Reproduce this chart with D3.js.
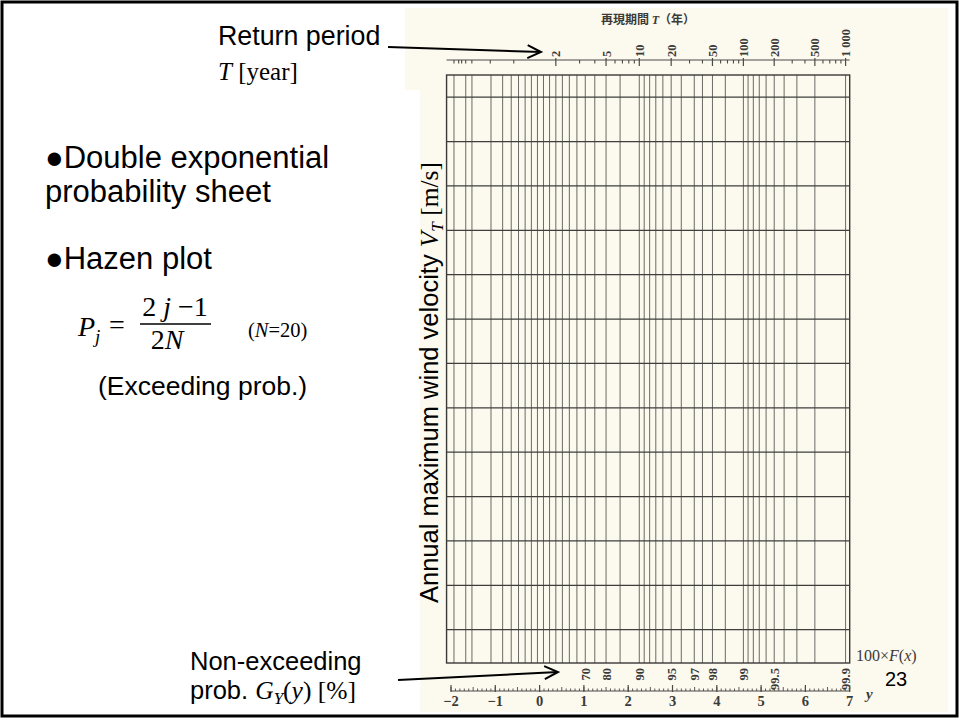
<!DOCTYPE html>
<html><head><meta charset="utf-8">
<script src="https://cdn.jsdelivr.net/npm/d3@7"></script>
<style>body{margin:0;background:#fff}</style>
</head><body><svg id="c" width="960" height="720"></svg>
<script>
// ---------- data ----------
const gridProb = [0.001,0.005,0.01,0.05,0.10,0.15,0.20,0.25,0.30,0.35,0.40,0.45,0.50,0.55,0.60,0.65,0.70,0.75,0.80,0.85,0.90,
  0.91,0.92,0.93,0.94,0.95,0.96,0.97,0.975,0.98,0.985,0.99,0.991,0.992,0.993,0.994,0.995,0.996,0.997,0.998,0.999];
const returnPeriodLabeled = [2,5,10,20,50,100,200,500,1000];
const returnPeriodLabels = ["2","5","10","20","50","100","200","500","1 000"];
const returnPeriodMinor = [1.001,1.002,1.003,1.005,1.01,1.05,1.2,3,4,6,7,8,9,30,40,60,70,80,90,300,400,600,700,800,900];
const probLabeled = [0.70,0.80,0.90,0.95,0.97,0.98,0.99,0.995,0.999];
const probLabels = ["70","80","90","95","97","98","99","99.5","99.9"];
const reducedTicks = [-2,-1,0,1,2,3,4,5,6,7];
const velocityLines = [1,2,3,4,5,6,7,8,9,10,11,12,13];
const frameReduced = [-2.1, 7];
const frameVelocity = [0.25, 13.5];

// ---------- scales ----------
const svg = d3.select("#c");
const gumbel = F => -Math.log(-Math.log(F));
const x = d3.scaleLinear().domain([-2, 7]).range([451, 849.7]);
const yV = d3.scaleLinear().domain(frameVelocity).range([663, 75]);
const xF = F => x(gumbel(F));
const xT = T => xF(1 - 1/T);

// backgrounds
svg.append("rect").attr("x",0).attr("y",0).attr("width",960).attr("height",720).attr("fill","#fff");
svg.append("rect").attr("x",420).attr("y",8).attr("width",528).attr("height",704).attr("fill","#fcf9ee");
svg.append("rect").attr("x",405).attr("y",8).attr("width",16).attr("height",82).attr("fill","#fcf9ee");

const ink = "#4a4a48";
const g = svg.append("g");
// vertical grid
g.selectAll("line.v").data(gridProb).join("line")
  .attr("x1", d => xF(d)).attr("x2", d => xF(d))
  .attr("y1", yV(frameVelocity[0])).attr("y2", yV(frameVelocity[1]))
  .attr("stroke", "#6a6a66").attr("stroke-width", 1);
// horizontal grid
g.selectAll("line.h").data(velocityLines).join("line")
  .attr("x1", x(frameReduced[0])).attr("x2", x(frameReduced[1]))
  .attr("y1", d => yV(d)).attr("y2", d => yV(d))
  .attr("stroke", "#3e3e3c").attr("stroke-width", 1.2);
// frame
g.append("rect").attr("x", x(frameReduced[0])).attr("y", yV(frameVelocity[1]))
  .attr("width", x(frameReduced[1]) - x(frameReduced[0]))
  .attr("height", yV(frameVelocity[0]) - yV(frameVelocity[1]))
  .attr("fill","none").attr("stroke","#3a3a38").attr("stroke-width",1.4);

// top return-period axis
const topY = 60;
g.append("line").attr("x1", x(frameReduced[0])).attr("x2", x(7)).attr("y1", topY).attr("y2", topY)
  .attr("stroke", ink).attr("stroke-width", 1.2);
g.selectAll("line.tmin").data(returnPeriodMinor).join("line")
  .attr("x1", d => xT(d)).attr("x2", d => xT(d)).attr("y1", topY).attr("y2", topY + 3.5)
  .attr("stroke", ink).attr("stroke-width", 1.1);
g.selectAll("line.tmaj").data(returnPeriodLabeled).join("line")
  .attr("x1", d => xT(d)).attr("x2", d => xT(d)).attr("y1", topY - 2).attr("y2", topY + 6)
  .attr("stroke", ink).attr("stroke-width", 1.2);
g.selectAll("text.tlab").data(returnPeriodLabeled).join("text")
  .attr("transform", d => `translate(${xT(d) + 4.5},${topY - 3}) rotate(-90)`)
  .attr("font-family", "Liberation Serif, serif").attr("font-size", 12.5).attr("font-weight", "bold")
  .attr("fill", "#3a3a38")
  .text((d, i) => returnPeriodLabels[i]);
svg.append("text").attr("x", 648).attr("y", 24).attr("text-anchor", "middle")
  .attr("font-family", "Noto Sans CJK JP, serif").attr("font-size", 12).attr("font-weight", "bold")
  .attr("fill", "#3a3a38")
  .html('再現期間 <tspan font-family="Liberation Serif" font-style="italic">T</tspan>（年）');

// bottom probability labels
g.selectAll("text.flab").data(probLabeled).join("text")
  .attr("transform", d => `translate(${xF(d) + 4.5},${668}) rotate(-90)`)
  .attr("text-anchor", "end")
  .attr("font-family", "Liberation Serif, serif").attr("font-size", 12.5).attr("font-weight", "bold")
  .attr("fill", "#3a3a38")
  .text((d, i) => probLabels[i]);
svg.append("text").attr("x", 856).attr("y", 661)
  .attr("font-family", "Liberation Serif, serif").attr("font-size", 16).attr("fill", "#3a3a38")
  .html('100×<tspan font-style="italic">F</tspan>(<tspan font-style="italic">x</tspan>)');

// bottom reduced-variate axis
const botY = 691;
g.append("line").attr("x1", x(-2)).attr("x2", x(7)).attr("y1", botY).attr("y2", botY)
  .attr("stroke", ink).attr("stroke-width", 1.2);
const minorTicks = x.ticks(90);
g.selectAll("line.ymin").data(minorTicks).join("line")
  .attr("x1", d => x(d)).attr("x2", d => x(d)).attr("y1", botY)
  .attr("y2", d => botY - (Math.abs(d * 2 - Math.round(d * 2)) < 1e-6 ? 4 : 2.5))
  .attr("stroke", ink).attr("stroke-width", 0.9);
g.selectAll("line.ymaj").data(reducedTicks).join("line")
  .attr("x1", d => x(d)).attr("x2", d => x(d)).attr("y1", botY + 1).attr("y2", botY - 6)
  .attr("stroke", ink).attr("stroke-width", 1.2);
g.selectAll("text.ylab").data(reducedTicks).join("text")
  .attr("x", d => x(d)).attr("y", 706).attr("text-anchor", "middle")
  .attr("font-family", "Liberation Serif, serif").attr("font-size", 14.5).attr("font-weight", "bold")
  .attr("fill", "#3a3a38")
  .text(d => d < 0 ? "\u2212" + Math.abs(d) : d);
svg.append("text").attr("x", 866).attr("y", 699)
  .attr("font-family", "Liberation Serif, serif").attr("font-size", 15).attr("font-style", "italic")
  .attr("font-weight", "bold").attr("fill", "#3a3a38").text("y");

// ---------- slide text ----------
const sans = "Liberation Sans, Arial, sans-serif";
const serif = "Liberation Serif, Times New Roman, serif";
svg.append("text").attr("x", 218).attr("y", 45).attr("font-family", sans).attr("font-size", 26.8).text("Return period");
svg.append("text").attr("x", 218).attr("y", 80).attr("font-family", serif).attr("font-size", 25)
  .html('<tspan font-style="italic">T</tspan> [year]');
svg.append("text").attr("x", 45).attr("y", 168).attr("font-family", sans).attr("font-size", 31).text("●Double exponential");
svg.append("text").attr("x", 45).attr("y", 202).attr("font-family", sans).attr("font-size", 31).text("probability sheet");
svg.append("text").attr("x", 45).attr("y", 269).attr("font-family", sans).attr("font-size", 31).text("●Hazen plot");

// formula
svg.append("text").attr("x", 78).attr("y", 336).attr("font-family", serif).attr("font-size", 28)
  .html('<tspan font-style="italic">P</tspan><tspan font-style="italic" font-size="19" dy="7">j</tspan>');
svg.append("text").attr("x", 109).attr("y", 334).attr("font-family", serif).attr("font-size", 28).text("=");
svg.append("text").attr("x", 175).attr("y", 316).attr("text-anchor", "middle").attr("font-family", serif).attr("font-size", 28)
  .html('2<tspan font-style="italic"> j</tspan> \u22121');
svg.append("line").attr("x1", 140).attr("x2", 211).attr("y1", 324).attr("y2", 324).attr("stroke", "#000").attr("stroke-width", 1.3);
svg.append("text").attr("x", 167).attr("y", 349).attr("text-anchor", "middle").attr("font-family", serif).attr("font-size", 28)
  .html('2<tspan font-style="italic">N</tspan>');
svg.append("text").attr("x", 248).attr("y", 337).attr("font-family", serif).attr("font-size", 20.5)
  .html('(<tspan font-style="italic">N</tspan>=20)');
svg.append("text").attr("x", 98).attr("y", 395).attr("font-family", sans).attr("font-size", 26.5).text("(Exceeding prob.)");

svg.append("text").attr("x", 190).attr("y", 670).attr("font-family", sans).attr("font-size", 25.5).text("Non-exceeding");
svg.append("text").attr("x", 190).attr("y", 699).attr("font-family", sans).attr("font-size", 25.5)
  .html('prob. <tspan font-family="Liberation Serif" font-style="italic">G</tspan><tspan font-family="Liberation Serif" font-style="italic" font-size="17" dy="5">Y</tspan><tspan font-family="Liberation Serif" dy="-5">(<tspan font-style="italic">y</tspan>) [%]</tspan>');

// y-axis label (rotated)
svg.append("text").attr("transform", "translate(438,603) rotate(-90)")
  .attr("font-family", sans).attr("font-size", 25.5)
  .html('Annual maximum wind velocity <tspan font-family="Liberation Serif" font-style="italic">V</tspan><tspan font-family="Liberation Serif" font-style="italic" font-size="17" dy="5">T</tspan><tspan font-family="Liberation Serif" dy="-5"> [m/s]</tspan>');

// page number
svg.append("text").attr("x", 885).attr("y", 686).attr("font-family", sans).attr("font-size", 20).text("23");

// arrows
function arrow(x1, y1, x2, y2) {
  svg.append("line").attr("x1", x1).attr("y1", y1).attr("x2", x2).attr("y2", y2).attr("stroke", "#000").attr("stroke-width", 2);
  const a = Math.atan2(y2 - y1, x2 - x1), L = 15, w = 0.45;
  svg.append("polyline")
    .attr("points", [[x2 - L*Math.cos(a - w), y2 - L*Math.sin(a - w)], [x2, y2], [x2 - L*Math.cos(a + w), y2 - L*Math.sin(a + w)]].map(p => p.join(",")).join(" "))
    .attr("fill", "none").attr("stroke", "#000").attr("stroke-width", 2);
}
arrow(388, 47, 541, 52);
arrow(398, 680, 558, 672);

// slide border
svg.append("rect").attr("x", 2).attr("y", 2).attr("width", 955).attr("height", 714)
  .attr("fill", "none").attr("stroke", "#000").attr("stroke-width", 3);
</script></body></html>
